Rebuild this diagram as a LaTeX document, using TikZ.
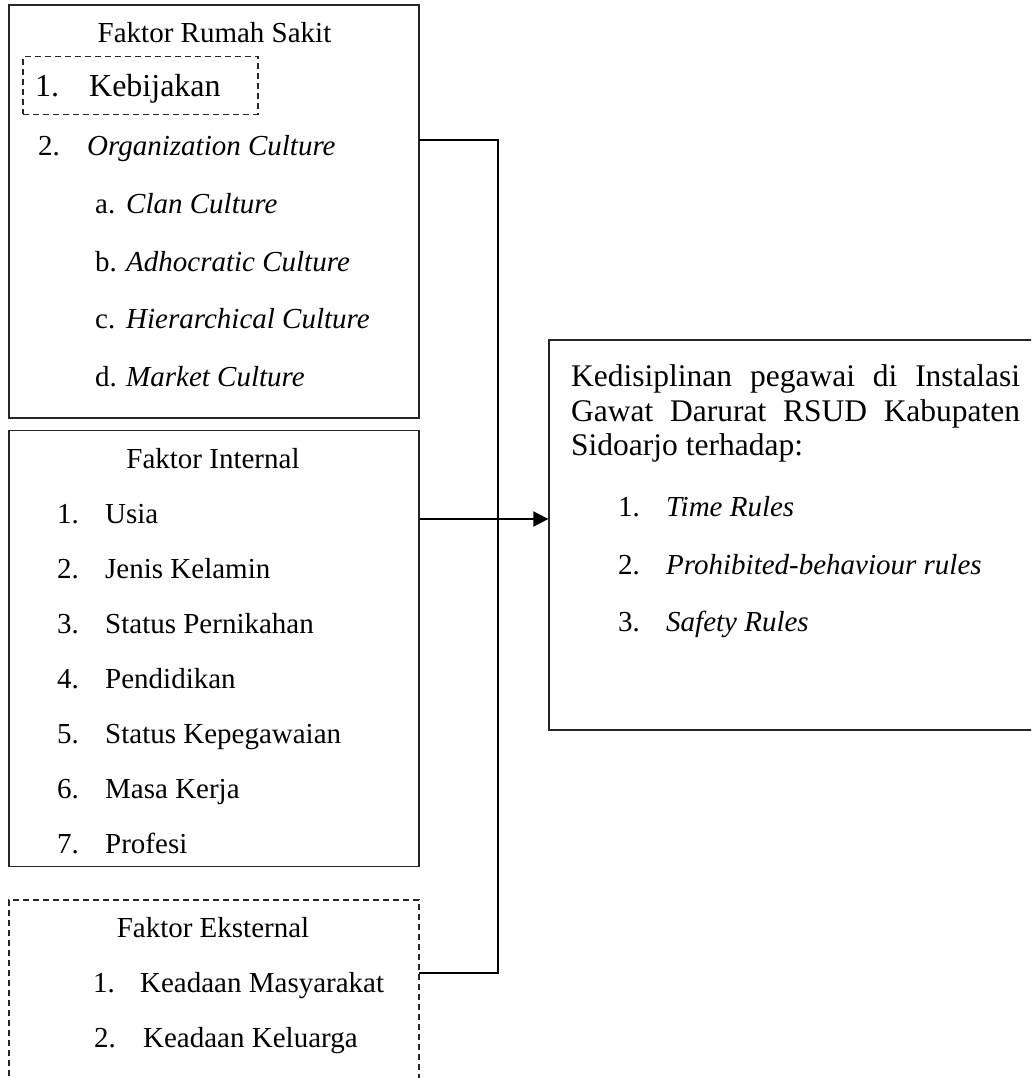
\documentclass[tikz,border=0pt]{standalone}
\usepackage{fontspec}
\setmainfont{Liberation Serif}
\usetikzlibrary{arrows.meta}

\tikzset{
  box/.style={draw=black!85, line width=1.3pt, inner sep=0pt},
  dbox/.style={box, dash pattern=on 6pt off 4pt},
  txt/.style={anchor=base west, inner sep=0pt, font=\fontsize{29pt}{34pt}\selectfont},
  head/.style={anchor=base, inner sep=0pt, font=\fontsize{29pt}{34pt}\selectfont},
  link/.style={line width=1.8pt},
}
\newcommand{\nr}[2][48pt]{\makebox[#1][l]{#2}}

\begin{document}
\begin{tikzpicture}[x=1pt,y=-1pt]
\useasboundingbox (0,0) rectangle (1031,1078);
\clip (0,0) rectangle (1031,1078);

% boxes
	\node[box, minimum width=410pt, minimum height=413pt] (rs) at (214,211.5) {};
	\node[dbox, minimum width=235pt, minimum height=57.5pt] (kb) at (140.5,85.5) {};
	\node[box, minimum width=410pt, minimum height=436pt] (in) at (214,648.7) {};
	\node[dbox, minimum width=410pt, minimum height=200pt] (ek) at (214,1000) {};
	\node[box, minimum width=500pt, minimum height=390pt] (ked) at (799,535) {};

% Faktor Rumah Sakit
	\node[head] (rsT) at (214.5,43) {Faktor Rumah Sakit};
	\node[txt, font=\fontsize{32pt}{36pt}\selectfont] (rs1) at (35,96.7) {\nr[54pt]{1.}Kebijakan};
	\node[txt] (rs2) at (38,156) {\nr[49pt]{2.}\textit{Organization Culture}};
	\node[txt] (rs2a) at (95,213.3) {\nr[31pt]{a.}\textit{Clan Culture}};
	\node[txt] (rs2b) at (95,271.7) {\nr[31pt]{b.}\textit{Adhocratic Culture}};
	\node[txt] (rs2c) at (95,328.3) {\nr[31pt]{c.}\textit{Hierarchical Culture}};
	\node[txt] (rs2d) at (95,386.7) {\nr[31pt]{d.}\textit{Market Culture}};

% Faktor Internal
	\node[head] (inT) at (213,468) {Faktor Internal};
	\node[txt] (in1) at (57,523) {\nr{1.}Usia};
	\node[txt] (in2) at (57,578) {\nr{2.}Jenis Kelamin};
	\node[txt] (in3) at (57,633) {\nr{3.}Status Pernikahan};
	\node[txt] (in4) at (57,688) {\nr{4.}Pendidikan};
	\node[txt] (in5) at (57,743) {\nr{5.}Status Kepegawaian};
	\node[txt] (in6) at (57,798) {\nr{6.}Masa Kerja};
	\node[txt] (in7) at (57,853) {\nr{7.}Profesi};

% Faktor Eksternal
	\node[head] (ekT) at (213,937) {Faktor Eksternal};
	\node[txt] (ek1) at (93,992) {\nr[47pt]{1.}Keadaan Masyarakat};
	\node[txt] (ek2) at (94,1047) {\nr[49pt]{2.}Keadaan Keluarga};

% Kedisiplinan
	\node[txt, font=\fontsize{31.5pt}{35pt}\selectfont] (kd1) at (571,386.5) {\makebox[449pt][s]{Kedisiplinan pegawai di Instalasi}};
	\node[txt, font=\fontsize{31.5pt}{35pt}\selectfont] (kd2) at (571,421) {\makebox[449pt][s]{Gawat Darurat RSUD Kabupaten}};
	\node[txt, font=\fontsize{31.5pt}{35pt}\selectfont] (kd3) at (571,455.5) {Sidoarjo terhadap:};
	\node[txt] (kr1) at (618,516.7) {\nr{1.}\textit{Time Rules}};
	\node[txt] (kr2) at (618,574) {\nr{2.}\textit{Prohibited-behaviour rules}};
	\node[txt] (kr3) at (618,631.7) {\nr{3.}\textit{Safety Rules}};

% connectors
	\coordinate (join) at (498,519);
	\coordinate (rsout) at (419,140);
	\coordinate (ekout) at (419,973);
	\draw[link] (rsout) -| (join);
	\draw[link] (ekout) -| (join);
	\draw[link, -{Triangle[length=15pt,width=15pt]}] (in.east |- join) -- (ked.west |- join);

\end{tikzpicture}
\end{document}
